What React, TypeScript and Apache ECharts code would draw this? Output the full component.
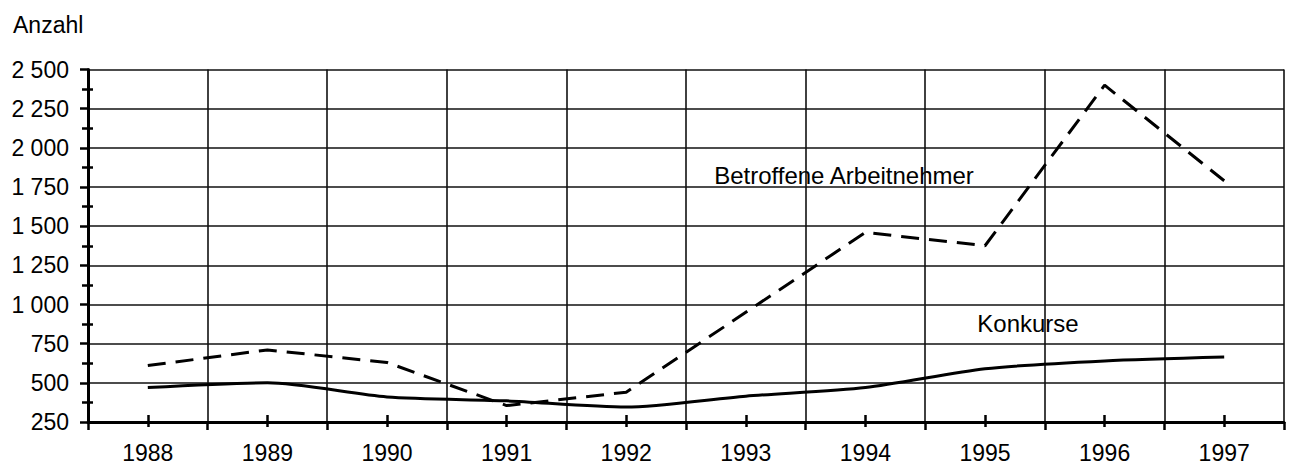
import React, { useEffect, useRef } from "react";
import * as echarts from "echarts";

const years = ["1988", "1989", "1990", "1991", "1992", "1993", "1994", "1995", "1996", "1997"];
const konkurse = [470, 500, 410, 385, 345, 415, 470, 590, 640, 665];
const arbeitnehmer = [610, 710, 630, 355, 440, 950, 1460, 1375, 2400, 1790];
const yMin = 250;
const yMax = 2500;
const yStep = 250;

const FONT = "'Liberation Sans', Arial, Helvetica, sans-serif";

function fmt(v: number): string {
  const s = String(Math.round(v));
  return s.replace(/\B(?=(\d{3})+(?!\d))/g, " ");
}

export default function App() {
  const ref = useRef<HTMLDivElement>(null);
  useEffect(() => {
    if (!ref.current) return;
    const chart = echarts.init(ref.current, null, { renderer: "svg" });
    const option: any = {
      animation: false,
      backgroundColor: "#ffffff",
      textStyle: { fontFamily: FONT, color: "#000" },
      title: {
        text: "Anzahl",
        left: 8,
        top: 8,
        textStyle: { fontFamily: FONT, fontSize: 23, fontWeight: "normal", color: "#000" },
      },
      grid: { left: 88, right: 7, top: 69.5, bottom: 46 },
      xAxis: [
        {
          type: "category",
          data: years,
          boundaryGap: true,
          axisLine: { show: true, lineStyle: { color: "#000", width: 3 } },
          axisTick: { show: true, length: 8, lineStyle: { color: "#000", width: 2.5 } },
          axisLabel: { fontFamily: FONT, fontSize: 23, color: "#000", margin: 19 },
          splitLine: { show: true, lineStyle: { color: "#111", width: 1.6 } },
        },
        {
          type: "category",
          data: years,
          boundaryGap: true,
          position: "bottom",
          offset: -7,
          axisLine: { show: false },
          axisTick: { show: true, alignWithLabel: true, length: 12, lineStyle: { color: "#000", width: 2.5 } },
          axisLabel: { show: false },
          splitLine: { show: false },
        },
      ],
      yAxis: [
        {
          type: "value",
          min: yMin,
          max: yMax,
          interval: yStep,
          axisLine: { show: true, lineStyle: { color: "#000", width: 3 } },
          axisTick: { show: true, length: 8, lineStyle: { color: "#000", width: 2.5 } },
          axisLabel: { fontFamily: FONT, fontSize: 23, color: "#000", margin: 19, formatter: fmt },
          splitLine: { show: true, lineStyle: { color: "#111", width: 1.6 } },
        },
        {
          type: "value",
          min: yMin,
          max: yMax,
          interval: yStep,
          position: "left",
          offset: -5,
          axisLine: { show: false },
          axisTick: { show: false },
          axisLabel: { show: false },
          splitLine: { show: false },
          minorTick: { show: true, splitNumber: 2, length: 11, lineStyle: { color: "#000", width: 2.5 } },
          minorSplitLine: { show: false },
        },
      ],
      series: [
        {
          name: "Betroffene Arbeitnehmer",
          type: "line",
          data: arbeitnehmer,
          xAxisIndex: 0,
          yAxisIndex: 0,
          symbol: "none",
          lineStyle: { color: "#000", width: 3, type: [18, 10] },
          z: 5,
        },
        {
          name: "Konkurse",
          type: "line",
          data: konkurse,
          xAxisIndex: 0,
          yAxisIndex: 0,
          symbol: "none",
          smooth: 0.25,
          lineStyle: { color: "#000", width: 3 },
          z: 5,
        },
      ],
      graphic: [
        {
          type: "group",
          z: 10,
          children: [
            { type: "rect", shape: { x: 703, y: 152, width: 280, height: 44 }, style: { fill: "#fff" } },
            {
              type: "text",
              x: 844,
              y: 175,
              style: {
                text: "Betroffene Arbeitnehmer",
                fontFamily: FONT,
                fontSize: 24,
                fill: "#000",
                align: "center",
                verticalAlign: "middle",
              },
            },
            { type: "rect", shape: { x: 968, y: 300, width: 120, height: 45 }, style: { fill: "#fff" } },
            {
              type: "text",
              x: 1028,
              y: 323,
              style: {
                text: "Konkurse",
                fontFamily: FONT,
                fontSize: 24,
                fill: "#000",
                align: "center",
                verticalAlign: "middle",
              },
            },
          ],
        },
      ],
    };
    chart.setOption(option);
    return () => chart.dispose();
  }, []);
  return (
    <div
      ref={ref}
      style={{ position: "fixed", left: 0, top: 0, width: 1291, height: 468, background: "#fff" }}
    />
  );
}
